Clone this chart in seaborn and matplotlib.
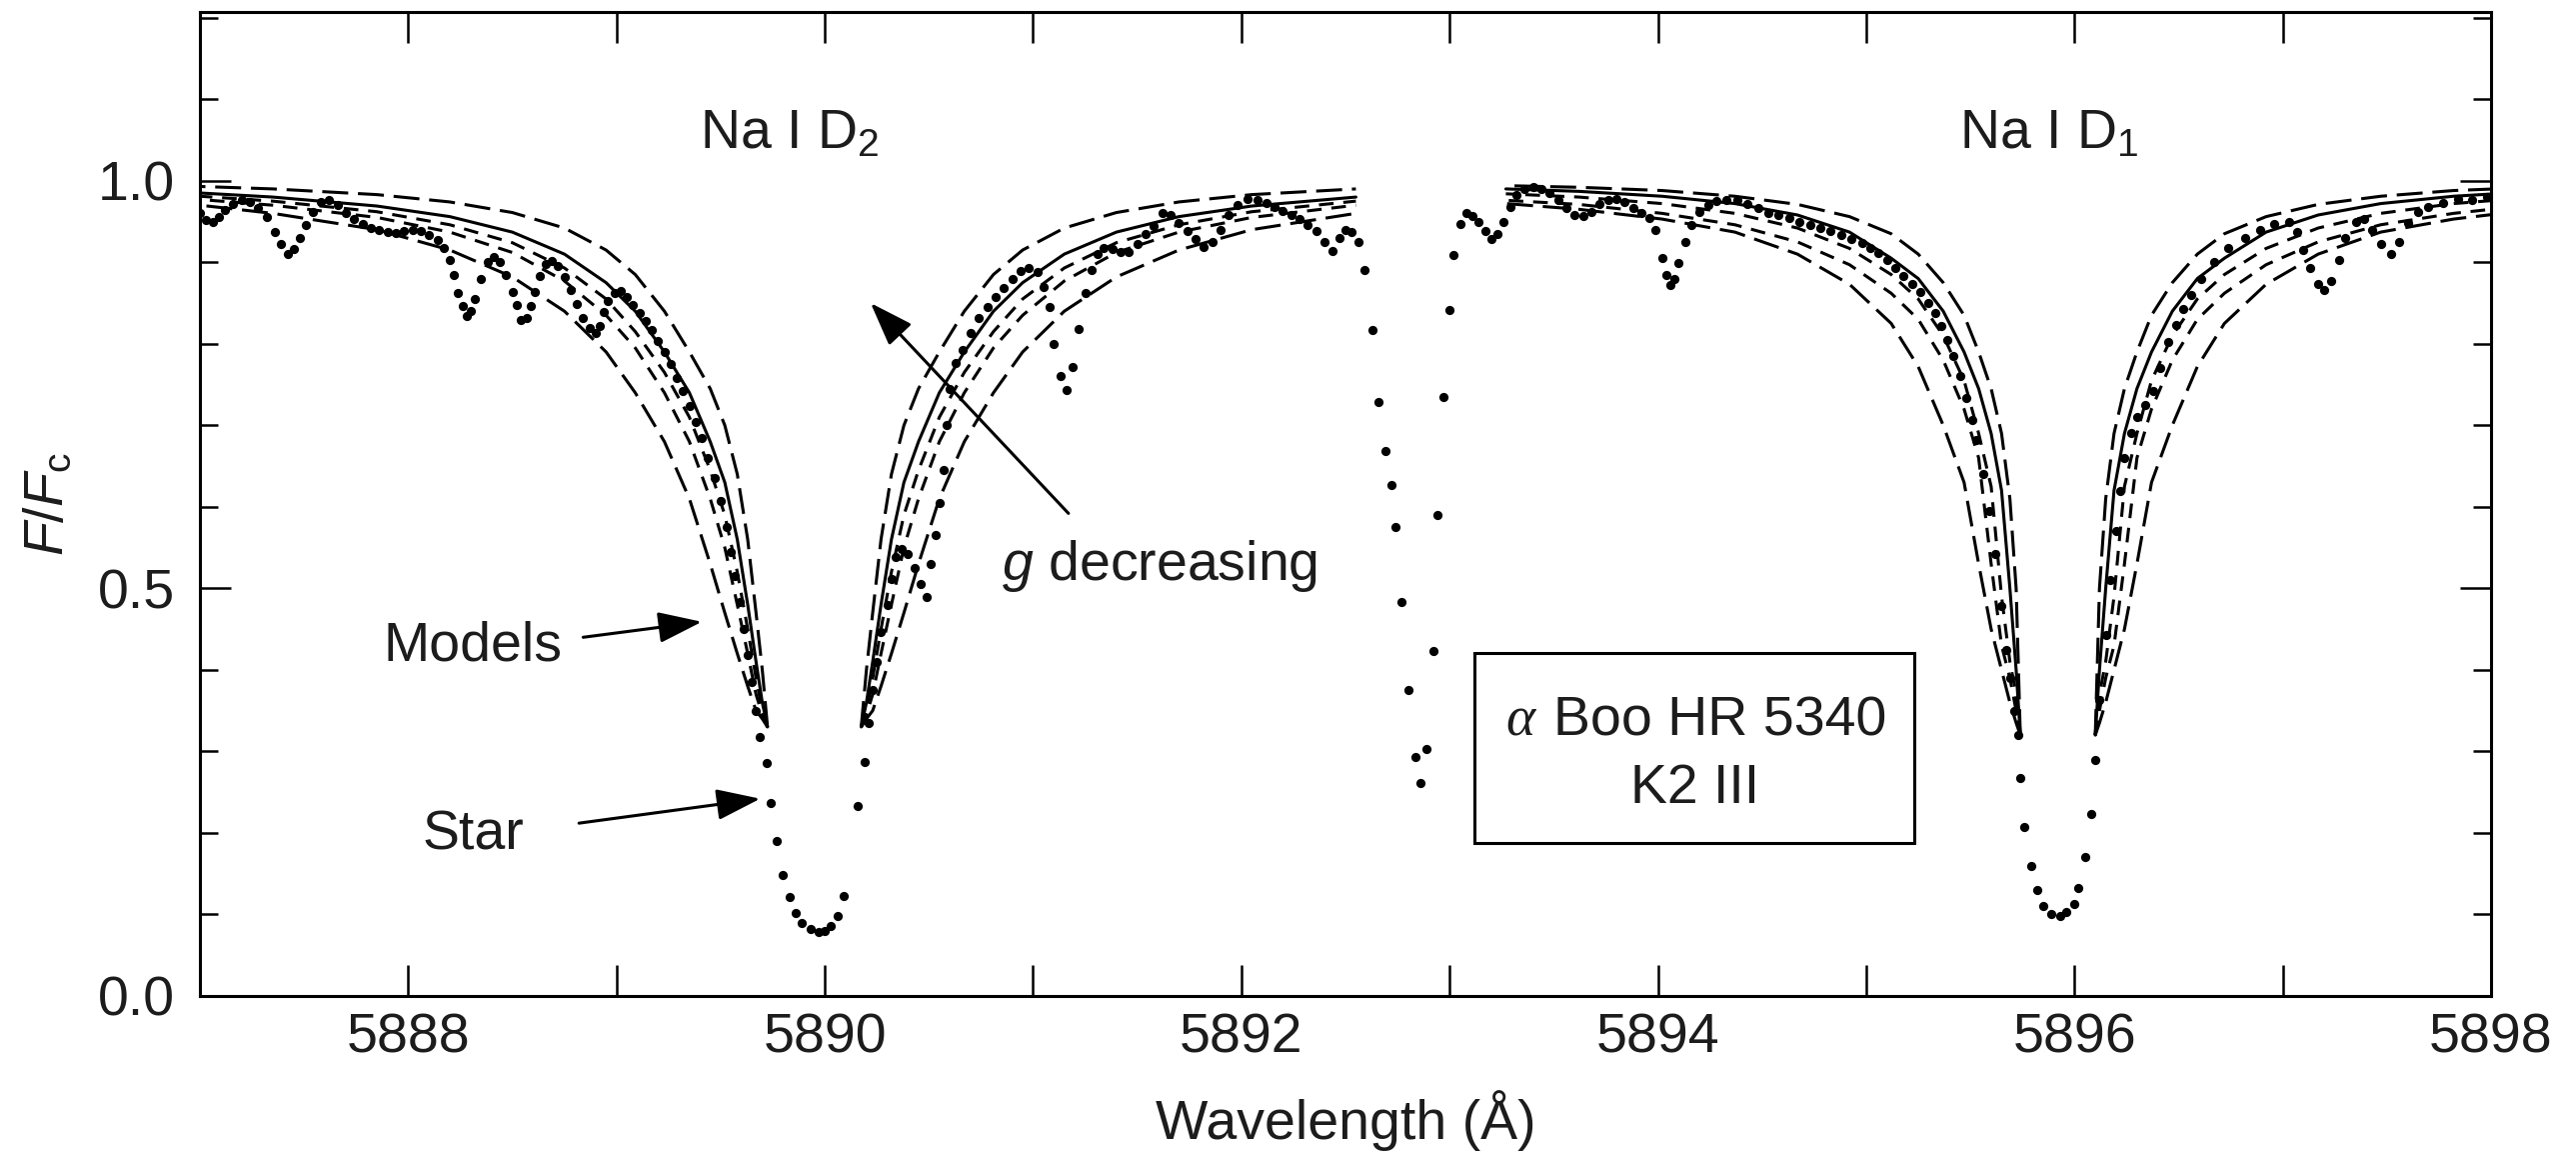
import matplotlib
matplotlib.use("Agg")
import matplotlib.pyplot as plt
from matplotlib.patches import Rectangle
from matplotlib.ticker import MultipleLocator
import pandas as pd
import seaborn as sns

# Observed spectrum of alpha Boo around the Na I D lines
star_wavelength = [
    5887.00, 5887.03, 5887.06, 5887.09, 5887.12, 5887.16, 5887.20, 5887.24, 5887.28, 5887.32,
    5887.36, 5887.39, 5887.42, 5887.45, 5887.48, 5887.51, 5887.54, 5887.58, 5887.62, 5887.66,
    5887.70, 5887.74, 5887.78, 5887.82, 5887.86, 5887.90, 5887.94, 5887.98, 5888.02, 5888.06,
    5888.10, 5888.14, 5888.17, 5888.20, 5888.22, 5888.24, 5888.26, 5888.28, 5888.30, 5888.32,
    5888.35, 5888.38, 5888.41, 5888.44, 5888.47, 5888.50, 5888.52, 5888.54, 5888.57, 5888.59,
    5888.61, 5888.63, 5888.66, 5888.69, 5888.72, 5888.75, 5888.78, 5888.81, 5888.84, 5888.87,
    5888.90, 5888.92, 5888.94, 5888.96, 5888.99, 5889.02, 5889.05, 5889.08, 5889.11, 5889.14,
    5889.17, 5889.20, 5889.23, 5889.26, 5889.29, 5889.32, 5889.35, 5889.38, 5889.41, 5889.44,
    5889.47, 5889.50, 5889.53, 5889.55, 5889.57, 5889.59, 5889.61, 5889.63, 5889.65, 5889.67,
    5889.69, 5889.72, 5889.74, 5889.77, 5889.80, 5889.83, 5889.86, 5889.89, 5889.93, 5889.97,
    5890.00, 5890.03, 5890.06, 5890.09, 5890.16, 5890.19, 5890.21, 5890.23, 5890.25, 5890.27,
    5890.30, 5890.32, 5890.34, 5890.37, 5890.40, 5890.43, 5890.46, 5890.49, 5890.51, 5890.53,
    5890.55, 5890.57, 5890.585, 5890.60, 5890.63, 5890.66, 5890.70, 5890.74, 5890.78, 5890.82,
    5890.86, 5890.90, 5890.94, 5890.98, 5891.02, 5891.05, 5891.08, 5891.10, 5891.13, 5891.16,
    5891.19, 5891.22, 5891.25, 5891.28, 5891.31, 5891.34, 5891.38, 5891.42, 5891.46, 5891.50,
    5891.54, 5891.58, 5891.62, 5891.66, 5891.70, 5891.74, 5891.78, 5891.82, 5891.86, 5891.90,
    5891.94, 5891.98, 5892.03, 5892.08, 5892.12, 5892.16, 5892.20, 5892.24, 5892.28, 5892.32,
    5892.36, 5892.40, 5892.44, 5892.47, 5892.50, 5892.53, 5892.56, 5892.59, 5892.63, 5892.66,
    5892.69, 5892.72, 5892.74, 5892.77, 5892.80, 5892.835, 5892.86, 5892.89, 5892.92, 5892.94,
    5892.97, 5893.00, 5893.02, 5893.05, 5893.08, 5893.11, 5893.14, 5893.17, 5893.20, 5893.23,
    5893.26, 5893.29, 5893.32, 5893.36, 5893.40, 5893.44, 5893.48, 5893.52, 5893.56, 5893.60,
    5893.64, 5893.68, 5893.72, 5893.76, 5893.80, 5893.84, 5893.88, 5893.92, 5893.96, 5893.99,
    5894.02, 5894.04, 5894.06, 5894.08, 5894.10, 5894.13, 5894.16, 5894.20, 5894.24, 5894.28,
    5894.33, 5894.38, 5894.43, 5894.48, 5894.53, 5894.58, 5894.63, 5894.68, 5894.73, 5894.78,
    5894.83, 5894.88, 5894.93, 5894.98, 5895.02, 5895.06, 5895.10, 5895.14, 5895.18, 5895.22,
    5895.26, 5895.30, 5895.33, 5895.36, 5895.39, 5895.42, 5895.45, 5895.48, 5895.51, 5895.53,
    5895.56, 5895.59, 5895.62, 5895.65, 5895.67, 5895.69, 5895.71, 5895.73, 5895.74, 5895.76,
    5895.79, 5895.82, 5895.85, 5895.89, 5895.93, 5895.96, 5896.00, 5896.02, 5896.05, 5896.08,
    5896.10, 5896.12, 5896.15, 5896.17, 5896.20, 5896.22, 5896.24, 5896.27, 5896.30, 5896.34,
    5896.38, 5896.41, 5896.45, 5896.49, 5896.52, 5896.56, 5896.61, 5896.67, 5896.74, 5896.82,
    5896.89, 5896.96, 5897.03, 5897.07, 5897.10, 5897.13, 5897.17, 5897.20, 5897.23, 5897.27,
    5897.30, 5897.35, 5897.39, 5897.43, 5897.47, 5897.52, 5897.56, 5897.60, 5897.65, 5897.70,
    5897.77, 5897.84, 5897.91, 5897.98,
]
star_flux = [
    0.960, 0.952, 0.950, 0.955, 0.964, 0.972, 0.976, 0.974, 0.967, 0.955,
    0.937, 0.922, 0.910, 0.916, 0.930, 0.946, 0.962, 0.974, 0.977, 0.970,
    0.960, 0.953, 0.947, 0.942, 0.939, 0.937, 0.936, 0.938, 0.939, 0.938,
    0.934, 0.927, 0.918, 0.903, 0.884, 0.862, 0.846, 0.834, 0.840, 0.855,
    0.880, 0.900, 0.907, 0.900, 0.884, 0.864, 0.847, 0.829, 0.832, 0.846,
    0.864, 0.883, 0.898, 0.901, 0.895, 0.882, 0.866, 0.849, 0.832, 0.819,
    0.813, 0.822, 0.839, 0.853, 0.862, 0.865, 0.858, 0.848, 0.838, 0.828,
    0.817, 0.804, 0.790, 0.775, 0.758, 0.742, 0.724, 0.704, 0.684, 0.660,
    0.635, 0.607, 0.575, 0.545, 0.515, 0.483, 0.450, 0.418, 0.385, 0.350,
    0.318, 0.286, 0.237, 0.190, 0.149, 0.121, 0.102, 0.090, 0.082, 0.078,
    0.080, 0.086, 0.098, 0.123, 0.233, 0.287, 0.335, 0.375, 0.410, 0.446,
    0.480, 0.512, 0.538, 0.548, 0.542, 0.525, 0.505, 0.490, 0.530, 0.565,
    0.605, 0.645, 0.700, 0.745, 0.777, 0.793, 0.813, 0.832, 0.845, 0.857,
    0.868, 0.880, 0.889, 0.893, 0.888, 0.870, 0.845, 0.800, 0.760, 0.743,
    0.772, 0.818, 0.862, 0.890, 0.910, 0.918, 0.916, 0.913, 0.913, 0.922,
    0.935, 0.945, 0.960, 0.958, 0.948, 0.938, 0.928, 0.919, 0.925, 0.940,
    0.958, 0.970, 0.978, 0.977, 0.973, 0.968, 0.963, 0.958, 0.953, 0.946,
    0.938, 0.925, 0.914, 0.930, 0.940, 0.937, 0.925, 0.890, 0.817, 0.729,
    0.668, 0.627, 0.575, 0.483, 0.375, 0.293, 0.261, 0.303, 0.423, 0.590,
    0.735, 0.842, 0.909, 0.947, 0.960, 0.957, 0.950, 0.938, 0.928, 0.935,
    0.950, 0.968, 0.982, 0.990, 0.992, 0.990, 0.985, 0.976, 0.966, 0.958,
    0.957, 0.962, 0.971, 0.977, 0.978, 0.974, 0.967, 0.961, 0.954, 0.940,
    0.905, 0.885, 0.872, 0.880, 0.899, 0.925, 0.946, 0.962, 0.970, 0.975,
    0.977, 0.976, 0.972, 0.966, 0.961, 0.958, 0.954, 0.950, 0.946, 0.942,
    0.938, 0.934, 0.929, 0.924, 0.918, 0.911, 0.903, 0.893, 0.883, 0.873,
    0.863, 0.850, 0.838, 0.822, 0.805, 0.785, 0.760, 0.733, 0.706, 0.682,
    0.640, 0.595, 0.542, 0.478, 0.425, 0.390, 0.350, 0.320, 0.267, 0.207,
    0.160, 0.130, 0.110, 0.100, 0.098, 0.103, 0.113, 0.133, 0.170, 0.223,
    0.290, 0.363, 0.443, 0.510, 0.570, 0.620, 0.660, 0.690, 0.710, 0.725,
    0.742, 0.770, 0.802, 0.823, 0.843, 0.860, 0.880, 0.900, 0.917, 0.930,
    0.940, 0.947, 0.950, 0.937, 0.915, 0.893, 0.873, 0.866, 0.877, 0.903,
    0.930, 0.950, 0.953, 0.940, 0.922, 0.910, 0.925, 0.948, 0.962, 0.968,
    0.973, 0.978, 0.977, 0.980,
]

# Model profiles (five surface gravities), tabulated against distance
# from the line centre in Angstrom; the line cores are not modelled.
model_names = ["m1", "m2", "m3", "m4", "m5"]

d2_center = 5889.95
d2_offsets = [0.225, 0.25, 0.28, 0.32, 0.37, 0.43, 0.50, 0.60, 0.72, 0.86,
              1.00, 1.20, 1.45, 1.75, 2.10, 2.60, 2.95]
d2_m1 = [0.33, 0.40, 0.47, 0.56, 0.64, 0.70, 0.745, 0.79, 0.84, 0.885,
         0.915, 0.942, 0.961, 0.974, 0.983, 0.990, 0.993]
d2_m2 = [0.33, 0.36, 0.41, 0.48, 0.56, 0.63, 0.68, 0.74, 0.79, 0.84,
         0.875, 0.91, 0.937, 0.956, 0.969, 0.980, 0.985]
d2_m3 = [0.33, 0.35, 0.39, 0.45, 0.52, 0.59, 0.645, 0.71, 0.765, 0.815,
         0.855, 0.893, 0.924, 0.946, 0.962, 0.975, 0.981]
d2_m4 = [0.33, 0.345, 0.37, 0.42, 0.48, 0.55, 0.61, 0.68, 0.74, 0.795,
         0.835, 0.877, 0.912, 0.937, 0.955, 0.970, 0.977]
d2_m5 = [0.33, 0.34, 0.35, 0.38, 0.42, 0.47, 0.53, 0.61, 0.68, 0.74,
         0.79, 0.84, 0.882, 0.915, 0.94, 0.960, 0.970]
d2_reach = {-1: 2.95, 1: 2.60}

d1_center = 5895.92
d1_offsets = [0.18, 0.20, 0.23, 0.27, 0.32, 0.38, 0.45, 0.55, 0.67, 0.80,
              1.00, 1.25, 1.55, 1.90, 2.30, 2.65]
d1_m1 = [0.32, 0.50, 0.61, 0.69, 0.745, 0.79, 0.835, 0.875, 0.91, 0.935,
         0.956, 0.971, 0.981, 0.988, 0.992, 0.994]
d1_m2 = [0.32, 0.40, 0.50, 0.62, 0.69, 0.745, 0.79, 0.84, 0.88, 0.905,
         0.937, 0.958, 0.972, 0.981, 0.987, 0.990]
d1_m3 = [0.32, 0.37, 0.41, 0.49, 0.625, 0.69, 0.755, 0.81, 0.855, 0.885,
         0.917, 0.942, 0.96, 0.972, 0.98, 0.984]
d1_m4 = [0.32, 0.35, 0.39, 0.43, 0.53, 0.66, 0.72, 0.78, 0.83, 0.862,
         0.897, 0.925, 0.946, 0.96, 0.971, 0.976]
d1_m5 = [0.32, 0.335, 0.36, 0.40, 0.45, 0.53, 0.63, 0.70, 0.772, 0.825,
         0.873, 0.91, 0.937, 0.953, 0.965, 0.972]
d1_reach = {-1: 2.65, 1: 2.30}

x_ticks = [5888, 5890, 5892, 5894, 5896, 5898]
y_ticks = [0.0, 0.5, 1.0]

# ---------------------------------------------------------------------------
lines = [
    ("D2", d2_center, d2_offsets, [d2_m1, d2_m2, d2_m3, d2_m4, d2_m5], d2_reach),
    ("D1", d1_center, d1_offsets, [d1_m1, d1_m2, d1_m3, d1_m4, d1_m5], d1_reach),
]
rows = []
for line_name, center, offsets, fluxes, reach in lines:
    for side in (-1, 1):
        for name, flux in zip(model_names, fluxes):
            seg = f"{line_name}{side}{name}"
            for off, f in zip(offsets, flux):
                if off <= reach[side] + 1e-9:
                    rows.append({"wavelength": center + side * off, "flux": f,
                                 "model": name, "segment": seg})
models = pd.DataFrame(rows)
star = pd.DataFrame({"wavelength": star_wavelength, "flux": star_flux})

sns.set_theme(style="ticks")
plt.rcParams["font.family"] = ["Liberation Sans", "DejaVu Sans"]
plt.rcParams["mathtext.fontset"] = "custom"
plt.rcParams["mathtext.rm"] = "Liberation Sans"
plt.rcParams["mathtext.it"] = "Liberation Sans:italic"

FS = 40
INK = "#1c1c1c"
fig = plt.figure(figsize=(25.77, 11.64), dpi=100)
ax = fig.add_axes([200 / 2577, 1 - 996 / 1164, 2292 / 2577, 984 / 1164])

dash_map = {"m1": (8.5, 3.2), "m2": "", "m3": (4.8, 3.2),
            "m4": (4.8, 3.2), "m5": (8.5, 3.2)}
sns.lineplot(data=models, x="wavelength", y="flux", style="model",
             style_order=model_names, units="segment", estimator=None,
             dashes=dash_map, color="black", linewidth=2.2, sort=False,
             legend=False, ax=ax)
sns.scatterplot(data=star, x="wavelength", y="flux", color="black", s=44,
                marker="o", linewidth=0, legend=False, ax=ax, zorder=4)

ax.set_xlim(5887, 5898)
ax.set_ylim(0, 1.207)
ax.set_xticks(x_ticks)
ax.set_xticklabels([str(t) for t in x_ticks])
ax.xaxis.set_minor_locator(MultipleLocator(1))
ax.set_yticks(y_ticks)
ax.set_yticklabels([f"{t:.1f}" for t in y_ticks])
ax.yaxis.set_minor_locator(MultipleLocator(0.1))
ax.tick_params(axis="both", which="both", direction="in", top=True, right=True,
               width=1.8, color="black", labelsize=FS, labelcolor=INK)
ax.tick_params(axis="x", which="both", length=22, pad=12)
ax.tick_params(axis="y", which="major", length=22, pad=18)
ax.tick_params(axis="y", which="minor", length=13)
for sp in ax.spines.values():
    sp.set_visible(True)
    sp.set_linewidth(2.2)
    sp.set_color("black")

ax.set_xlabel("Wavelength (Å)", fontsize=FS, color=INK, labelpad=18)
ax.set_ylabel(r"$F/F_{\mathrm{c}}$", fontsize=FS, color=INK, labelpad=16)

txt = dict(fontsize=FS, color=INK)
ax.text(5889.83, 1.040, r"Na I D$_2$", ha="center", va="baseline", **txt)
ax.text(5895.88, 1.040, r"Na I D$_1$", ha="center", va="baseline", **txt)
ax.text(5891.61, 0.510, r"$g$ decreasing", ha="center", va="baseline", **txt)
ax.text(5888.31, 0.412, "Models", ha="center", va="baseline", **txt)
ax.text(5888.31, 0.180, "Star", ha="center", va="baseline", **txt)

arrow = dict(arrowstyle="-|>,head_length=0.45,head_width=0.16", color="black",
             lw=2.2, mutation_scale=60, shrinkA=0, shrinkB=0)
ax.annotate("", xy=(5890.22, 0.850), xytext=(5891.17, 0.592), arrowprops=arrow)
ax.annotate("", xy=(5889.41, 0.459), xytext=(5888.84, 0.440), arrowprops=arrow)
ax.annotate("", xy=(5889.69, 0.242), xytext=(5888.82, 0.212), arrowprops=arrow)

ax.add_patch(Rectangle((5893.12, 0.188), 2.11, 0.233, fill=False,
                       lw=2.2, edgecolor="black", zorder=5))
t1 = ax.text(5894.30, 0.320, "Boo HR 5340", ha="center", va="baseline", **txt)
ax.annotate("α", xy=(0, 0), xycoords=t1, xytext=(-14, 0),
            textcoords="offset points", ha="right", va="bottom",
            fontsize=FS, color=INK, family="Liberation Serif",
            style="italic")
ax.text(5894.18, 0.237, "K2 III", ha="center", va="baseline", **txt)

fig.savefig("out.png", dpi=100, facecolor="white")
